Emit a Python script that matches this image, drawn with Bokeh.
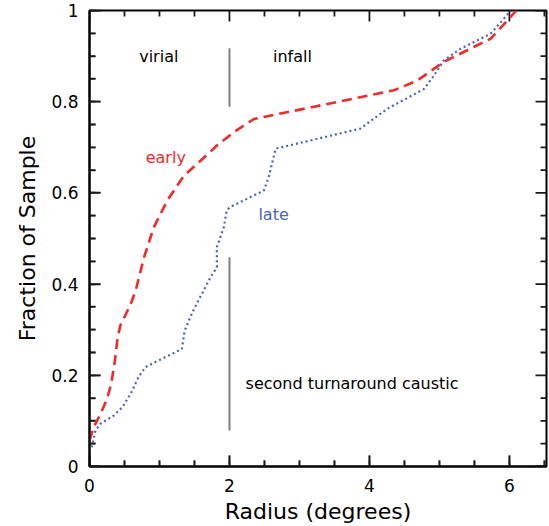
from bokeh.plotting import figure
from bokeh.models import ColumnDataSource, SingleIntervalTicker, Range1d
from bokeh.core.properties import value
from bokeh.embed import file_html
from bokeh.resources import INLINE

# Cumulative fraction of galaxies vs. projected radius
early_r = [0.0, 0.06, 0.16, 0.25, 0.31, 0.36, 0.40, 0.44, 0.51, 0.59, 0.66,
           0.78, 0.92, 1.11, 1.35, 1.59, 1.82, 2.06, 2.35, 4.35, 4.68, 5.06,
           5.49, 5.73, 5.97, 6.10]
early_f = [0.057, 0.086, 0.116, 0.148, 0.181, 0.229, 0.280, 0.309, 0.331,
           0.357, 0.386, 0.459, 0.525, 0.583, 0.638, 0.671, 0.704, 0.733,
           0.762, 0.825, 0.846, 0.887, 0.920, 0.938, 0.978, 1.000]

late_r = [0.03, 0.086, 0.157, 0.35, 0.47, 0.59, 0.70, 0.80, 0.94, 1.18, 1.32,
          1.36, 1.47, 1.63, 1.73, 1.82, 1.82, 1.92, 1.96, 2.01, 2.49, 2.56,
          2.66, 3.87, 4.25, 4.78, 4.92, 5.06, 5.30, 5.73, 5.90, 6.02]
late_f = [0.042, 0.079, 0.094, 0.112, 0.130, 0.160, 0.196, 0.218, 0.229,
          0.247, 0.258, 0.298, 0.338, 0.386, 0.415, 0.437, 0.481, 0.525,
          0.561, 0.569, 0.605, 0.634, 0.697, 0.741, 0.784, 0.828, 0.857,
          0.890, 0.916, 0.949, 0.978, 1.000]

# Second turnaround caustic at 2 degrees, drawn as two segments
caustic_r = [2.0, 2.0]
caustic_top = [0.917, 0.789]
caustic_bottom = [0.459, 0.079]

# Annotations
region_labels = ["virial", "infall"]
region_x = [0.99, 2.90]
region_y = [0.90, 0.90]

X_MAX = 6.53
W, H = 549, 526
BORDER_L, BORDER_R, BORDER_T, BORDER_B = 89, 3, 10, 60
FONT = "DejaVu Sans"
RED = "#f22a2a"
BLUE = "#4a64bd"
NAN = float("nan")

p = figure(width=W, height=H, output_backend="svg", toolbar_location=None,
           x_range=Range1d(0, X_MAX), y_range=Range1d(0, 1.0),
           min_border_left=BORDER_L, min_border_right=BORDER_R,
           min_border_top=BORDER_T, min_border_bottom=BORDER_B,
           x_axis_label="Radius (degrees)",
           y_axis_label="Fraction of Sample")
p.grid.visible = False
p.outline_line_color = "black"
p.outline_line_width = 2
p.background_fill_color = "white"
p.border_fill_color = "white"

for ax in (p.xaxis[0], p.yaxis[0]):
    ax.axis_line_color = "black"
    ax.axis_line_width = 2
    ax.major_tick_in = 11
    ax.major_tick_out = 0
    ax.minor_tick_in = 6
    ax.minor_tick_out = 0
    ax.major_tick_line_width = 1.5
    ax.minor_tick_line_width = 1.5
    ax.major_tick_line_color = "#1a1a1a"
    ax.minor_tick_line_color = "#1a1a1a"
    ax.major_label_text_font = FONT
    ax.major_label_text_font_size = "17px"
    ax.major_label_text_color = "black"
    ax.axis_label_text_font = FONT
    ax.axis_label_text_font_size = "22px"
    ax.axis_label_text_font_style = "normal"
    ax.axis_label_text_color = "black"

xa = p.xaxis[0]
xa.ticker = SingleIntervalTicker(interval=2, num_minor_ticks=4)
xa.major_label_standoff = 12
xa.axis_label_standoff = 4
xa.major_label_overrides = {0: "0"}

ya = p.yaxis[0]
ya.ticker = SingleIntervalTicker(interval=0.2, num_minor_ticks=4)
ya.major_label_standoff = 11
ya.axis_label_standoff = 8
ya.major_label_overrides = {0: "0", 1: "1"}

# Inward tick marks on all four frame sides, as one broken polyline
# (lengths in pixels, converted to data units through the frame size)
frame_w = W - BORDER_L - BORDER_R
frame_h = H - BORDER_T - BORDER_B
px_x = X_MAX / frame_w
px_y = 1.0 / frame_h

x_major = [0.0, 2.0, 4.0, 6.0]
x_minor = [0.5, 1.0, 1.5, 2.5, 3.0, 3.5, 4.5, 5.0, 5.5, 6.5]
y_major = [0.0, 0.2, 0.4, 0.6, 0.8, 1.0]
y_minor = [0.05, 0.1, 0.15, 0.25, 0.3, 0.35, 0.45, 0.5, 0.55, 0.65, 0.7,
           0.75, 0.85, 0.9, 0.95]

tx, ty = [], []
for xs, ln in ((x_major, 11), (x_minor, 6)):
    for x in xs:
        tx += [x, x, NAN, x, x, NAN]
        ty += [0.0, ln * px_y, NAN, 1.0, 1.0 - ln * px_y, NAN]
for ys, ln in ((y_major, 11), (y_minor, 6)):
    for y in ys:
        tx += [0.0, ln * px_x, NAN, X_MAX, X_MAX - ln * px_x, NAN]
        ty += [y, y, NAN, y, y, NAN]
p.line(tx, ty, line_color="#1a1a1a", line_width=1.8)

# Curves
p.line(early_r, early_f, line_color=RED, line_width=2.6, line_dash="10 6")
p.line(late_r, late_f, line_color=BLUE, line_width=2.2, line_dash="2 3")

# Caustic marker
p.line(caustic_r, caustic_top, line_color="#808080", line_width=2)
p.line(caustic_r, caustic_bottom, line_color="#808080", line_width=2)

# Text labels
src = ColumnDataSource(dict(x=region_x, y=region_y, t=region_labels))
p.text("x", "y", text="t", source=src, text_font=value(FONT),
       text_font_size="16px", text_align="center", text_baseline="middle",
       text_color="black")
p.text([1.09], [0.678], text=["early"], text_font=value(FONT),
       text_font_size="16px", text_align="center", text_baseline="middle",
       text_color=RED)
p.text([2.63], [0.552], text=["late"], text_font=value(FONT),
       text_font_size="16px", text_align="center", text_baseline="middle",
       text_color=BLUE)
p.text([2.23], [0.182], text=["second turnaround caustic"],
       text_font=value(FONT), text_font_size="16px", text_align="left",
       text_baseline="middle", text_color="black")

open("out.html", "w").write(file_html(p, INLINE))
